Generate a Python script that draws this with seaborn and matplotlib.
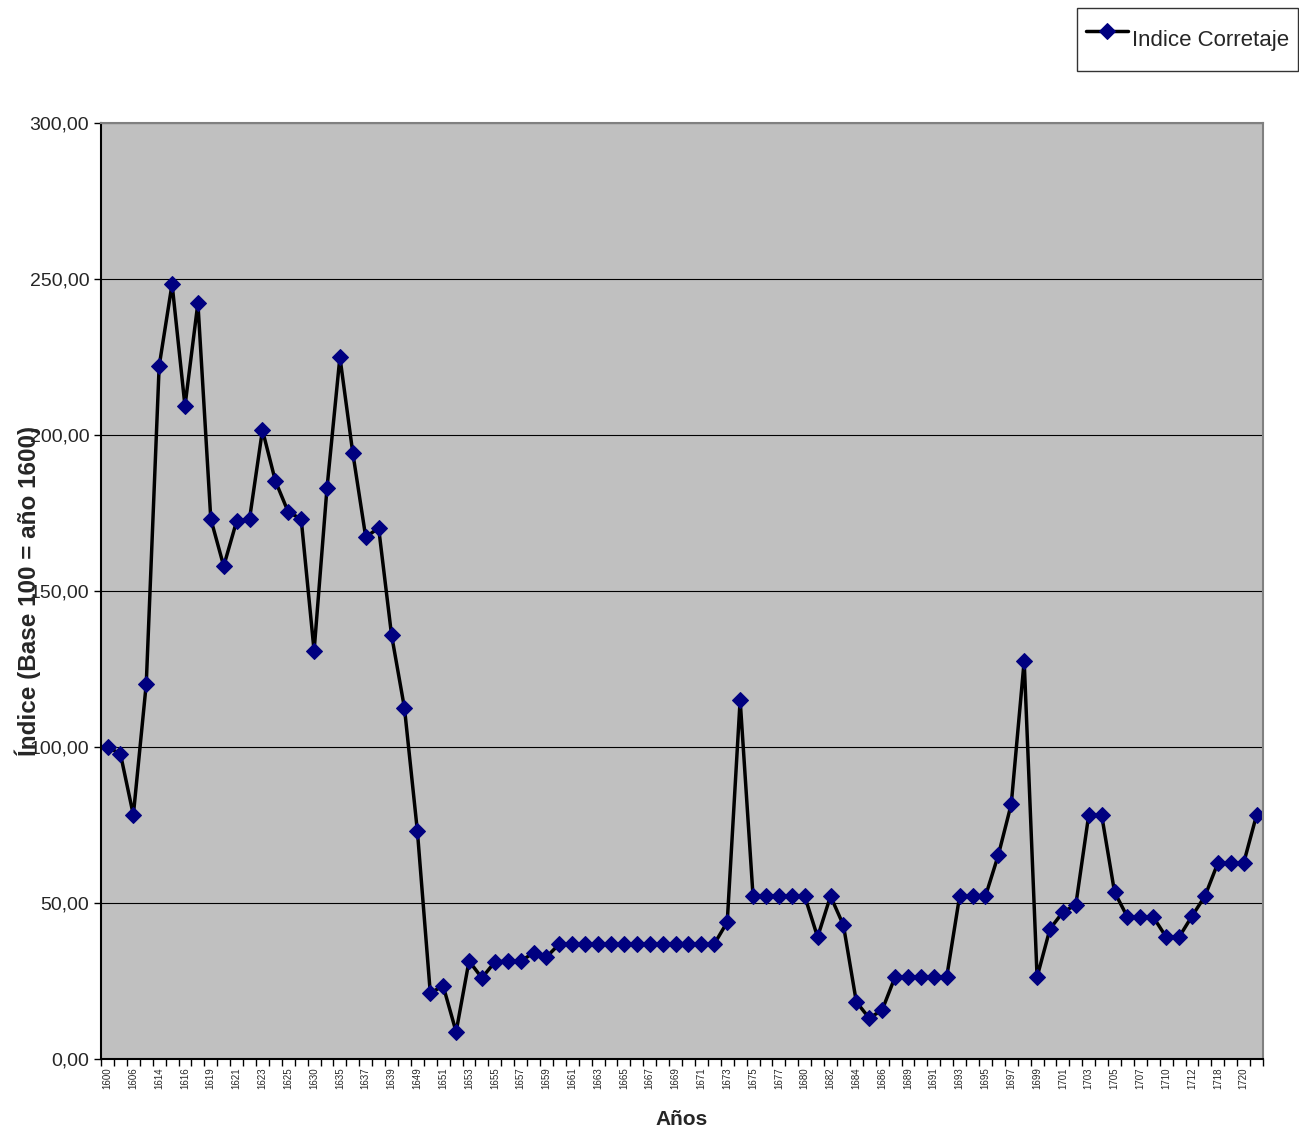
import numpy as np
import pandas as pd
import seaborn as sns
import matplotlib.pyplot as plt
from matplotlib.ticker import FuncFormatter, MultipleLocator, FixedLocator

years = ['1600', '1601', '1606', '1613', '1614', '1615', '1616', '1618', '1619', '1620',
         '1621', '1622', '1623', '1624', '1625', '1628', '1630', '1633', '1635', '1636',
         '1637', '1638', '1639', '1645', '1649', '1650', '1651', '1652', '1653', '1654',
         '1655', '1656', '1657', '1658', '1659', '1660', '1661', '1662', '1663', '1664',
         '1665', '1666', '1667', '1668', '1669', '1670', '1671', '1672', '1673', '1674',
         '1675', '1676', '1677', '1679', '1680', '1681', '1682', '1683', '1684', '1685',
         '1686', '1688', '1689', '1690', '1691', '1692', '1693', '1694', '1695', '1696',
         '1697', '1698', '1699', '1700', '1701', '1702', '1703', '1704', '1705', '1706',
         '1707', '1709', '1710', '1711', '1712', '1715', '1718', '1719', '1720', '1721']

indice = [100.0, 97.8, 78.2, 120.2, 222.1, 248.4, 209.3, 242.3, 173.1, 158.0,
          172.4, 173.1, 201.6, 185.3, 175.3, 173.1, 130.8, 183.0, 225.0, 194.2,
          167.3, 170.2, 135.9, 112.5, 73.1, 21.2, 23.4, 8.7, 31.4, 26.0,
          31.1, 31.4, 31.4, 34.0, 32.7, 36.9, 36.9, 36.9, 36.9, 36.9,
          36.9, 36.9, 36.9, 36.9, 36.9, 36.9, 36.9, 36.9, 43.9, 115.1,
          52.2, 52.2, 52.2, 52.2, 52.2, 39.1, 52.2, 42.9, 18.3, 13.1,
          15.7, 26.3, 26.3, 26.3, 26.3, 26.3, 52.2, 52.2, 52.2, 65.4,
          81.7, 127.6, 26.3, 41.7, 47.1, 49.4, 78.2, 78.2, 53.5, 45.5,
          45.5, 45.5, 39.1, 39.1, 45.8, 52.2, 62.8, 62.8, 62.8, 78.2]

df = pd.DataFrame({'Años': years, 'Indice Corretaje': indice})

sns.set_style('white')
plt.rcParams['font.family'] = ['Liberation Sans', 'DejaVu Sans']

fig = plt.figure(figsize=(12.99, 11.33), dpi=100)
ax = fig.add_axes([0.0778, 0.0653, 0.8945, 0.8261])
ax.set_facecolor('#C0C0C0')

sns.lineplot(data=df, x='Años', y='Indice Corretaje', ax=ax, color='black', linewidth=2.5,
             marker='D', markersize=8, markerfacecolor='#000080', markeredgecolor='#000080',
             label='Indice Corretaje', legend=False)

n = len(years)
ax.set_xlim(-0.5, n - 0.5)
ax.set_ylim(0, 300)
ax.yaxis.set_major_locator(MultipleLocator(50))
ax.yaxis.set_major_formatter(FuncFormatter(lambda v, p: f'{v:.2f}'.replace('.', ',')))
ax.grid(axis='y', color='black', linewidth=0.8)
ax.set_axisbelow(True)

ax.set_xticks(range(0, n, 2))
ax.set_xticklabels(years[0::2], rotation=90, fontsize=7)
ax.xaxis.set_minor_locator(FixedLocator(np.arange(-0.5, n, 1)))
ax.tick_params(axis='x', which='major', length=0, pad=6)
ax.tick_params(axis='x', which='minor', length=5, width=1, color='black', direction='out')
ax.tick_params(axis='y', length=5, width=1, color='black', direction='out', labelsize=14)
ax.tick_params(bottom=True, left=True, which='both')

for s in ax.spines.values():
    s.set_color('#808080')
    s.set_linewidth(1.5)
ax.spines['left'].set_color('black')
ax.spines['bottom'].set_color('black')

# the reference puts the y label right on top of the tick labels
ax.set_ylabel('Índice (Base 100 = año 1600)', fontsize=17.5, fontweight='bold')
ax.yaxis.set_label_coords(-0.052, 0.5)
ax.set_xlabel('Años', fontsize=15, fontweight='bold')
ax.xaxis.set_label_coords(0.5, -0.055)

h, l = ax.get_legend_handles_labels()
leg = fig.legend(h, l, loc='upper right', bbox_to_anchor=(0.9995, 0.993), fontsize=16,
                 frameon=True, fancybox=False, edgecolor='black', handlelength=1.9,
                 handleheight=2.75, handletextpad=0.2, borderpad=0.4, borderaxespad=0)
leg.get_frame().set_linewidth(1.0)

fig.savefig('out.png', dpi=100)
